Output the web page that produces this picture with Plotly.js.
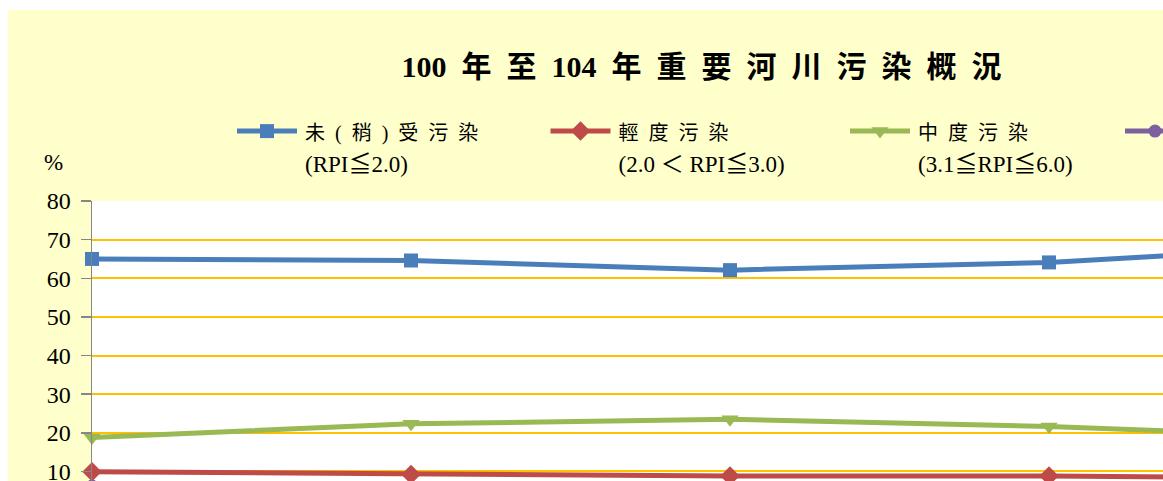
<!DOCTYPE html>
<html>
<head>
<meta charset="utf-8">
<script src="https://cdn.plot.ly/plotly-3.0.1.min.js"></script>
<style>
  html, body { margin: 0; padding: 0; background: #ffffff; overflow: hidden; width: 1163px; height: 481px; }
  #chart { position: absolute; left: 8px; top: 10px; width: 1387px; height: 560px; }
</style>
</head>
<body>
<div id="chart"></div>
<script>
// ---- data ----
const years = ["100年", "101年", "102年", "103年", "104年"];
const unpolluted = [65.0, 64.6, 62.1, 64.1, 68.8];   // 未(稍)受污染
const lightPoll  = [9.9, 9.2, 8.8, 8.8, 8.2];       // 輕度污染
const moderate   = [18.8, 22.3, 23.5, 21.6, 18.6];  // 中度污染
const severe     = [6.2, 3.9, 5.6, 5.5, 4.4];       // 嚴重污染

const seriesNames = [
  ["未\u2002(\u2002稍\u2002)\u2002受\u2002污\u2002染", "(RPI≦2.0)"],
  ["輕\u2002度\u2002污\u2002染", "(2.0 ＜ RPI≦3.0)"],
  ["中\u2002度\u2002污\u2002染", "(3.1≦RPI≦6.0)"],
  ["嚴\u2002重\u2002污\u2002染", "(RPI＞6.0)"]
];
const titleText = "100\u2002年\u2002至\u2002104\u2002年\u2002重\u2002要\u2002河\u2002川\u2002污\u2002染\u2002概\u2002況";

const W = 1387, H = 560;
const FONT = "Liberation Serif, 'Noto Sans CJK TC', serif";
function nm(pair) {
  return '<span style="font-size:20px">' + pair[0] + '</span><br>' +
         '<span style="font-size:23px">' + pair[1] + '</span>';
}
function mk(y, name, color, symbol, size, legend) {
  return {
    type: "scatter", mode: "lines+markers", x: years, y: y, name: name,
    line: { color: color, width: 5 },
    marker: { color: color, symbol: symbol, size: size },
    cliponaxis: false, legend: legend
  };
}
const traces = [
  mk(unpolluted, nm(seriesNames[0]), "#4A7EBB", "square", 14, "legend"),
  mk(lightPoll, nm(seriesNames[1]), "#BE4B48", "diamond", 15, "legend2"),
  mk(moderate, nm(seriesNames[2]), "#98B954", "triangle-down", 15, "legend3"),
  mk(severe, nm(seriesNames[3]), "#7D60A0", "circle", 13, "legend4")
];

function leg(xpx) {
  return {
    x: xpx / W, xref: "container", xanchor: "left",
    y: 1 - 99 / H, yref: "container", yanchor: "top",
    bgcolor: "rgba(0,0,0,0)", borderwidth: 0, valign: "top",
    font: { family: FONT, size: 24, color: "#000000" }
  };
}

const layout = {
  width: W, height: H,
  paper_bgcolor: "#FFFFCC", plot_bgcolor: "#FFFFFF",
  margin: { l: 84, r: 27, t: 191, b: 60, pad: 0, autoexpand: false },
  title: {
    text: titleText, x: 0.5, xref: "container", xanchor: "center",
    y: 1 - 56 / H, yref: "container", yanchor: "middle",
    font: { family: FONT, size: 30, color: "#000000", weight: "bold" }
  },
  showlegend: true,
  legend: leg(257), legend2: leg(570.5), legend3: leg(870), legend4: leg(1145),
  xaxis: {
    type: "category", range: [0, 4], showgrid: false, zeroline: false,
    showline: true, linecolor: "#868686", linewidth: 1.5,
    ticks: "outside", ticklen: 8, tickcolor: "#868686",
    showticklabels: false
  },
  yaxis: {
    range: [0, 80], dtick: 10, tick0: 0,
    showgrid: true, gridcolor: "#FFC000", gridwidth: 2, zeroline: false,
    showline: true, linecolor: "#868686", linewidth: 1.5,
    ticks: "outside", ticklen: 10, tickcolor: "#868686", tickwidth: 1.5,
    ticklabelstandoff: 5,
    tickfont: { family: FONT, size: 24, color: "#000000" }
  },
  annotations: [{
    text: "%", xref: "paper", yref: "paper",
    x: (45 - 84) / 1276, y: (500 - 153) / 309,
    showarrow: false, xanchor: "center", yanchor: "middle",
    font: { family: FONT, size: 23, color: "#000000" }
  }]
};

function tweakLegend(gd) {
  gd.querySelectorAll(".infolayer .scrollbox").forEach(function (s) { s.removeAttribute("clip-path"); });
  gd.querySelectorAll(".infolayer g.traces").forEach(function (tr) {
    tr.querySelectorAll(".legendlines path").forEach(function (p) { p.setAttribute("d", "M-28,0h60"); });
    tr.querySelectorAll(".legendpoints path").forEach(function (p) { p.setAttribute("transform", "translate(2,0)"); });
  });
}

Plotly.newPlot("chart", traces, layout, { staticPlot: true, displayModeBar: false }).then(function (gd) {
  tweakLegend(gd);
  setTimeout(function () { tweakLegend(gd); }, 0);
  setTimeout(function () { tweakLegend(gd); }, 200);
});
</script>
</body>
</html>
